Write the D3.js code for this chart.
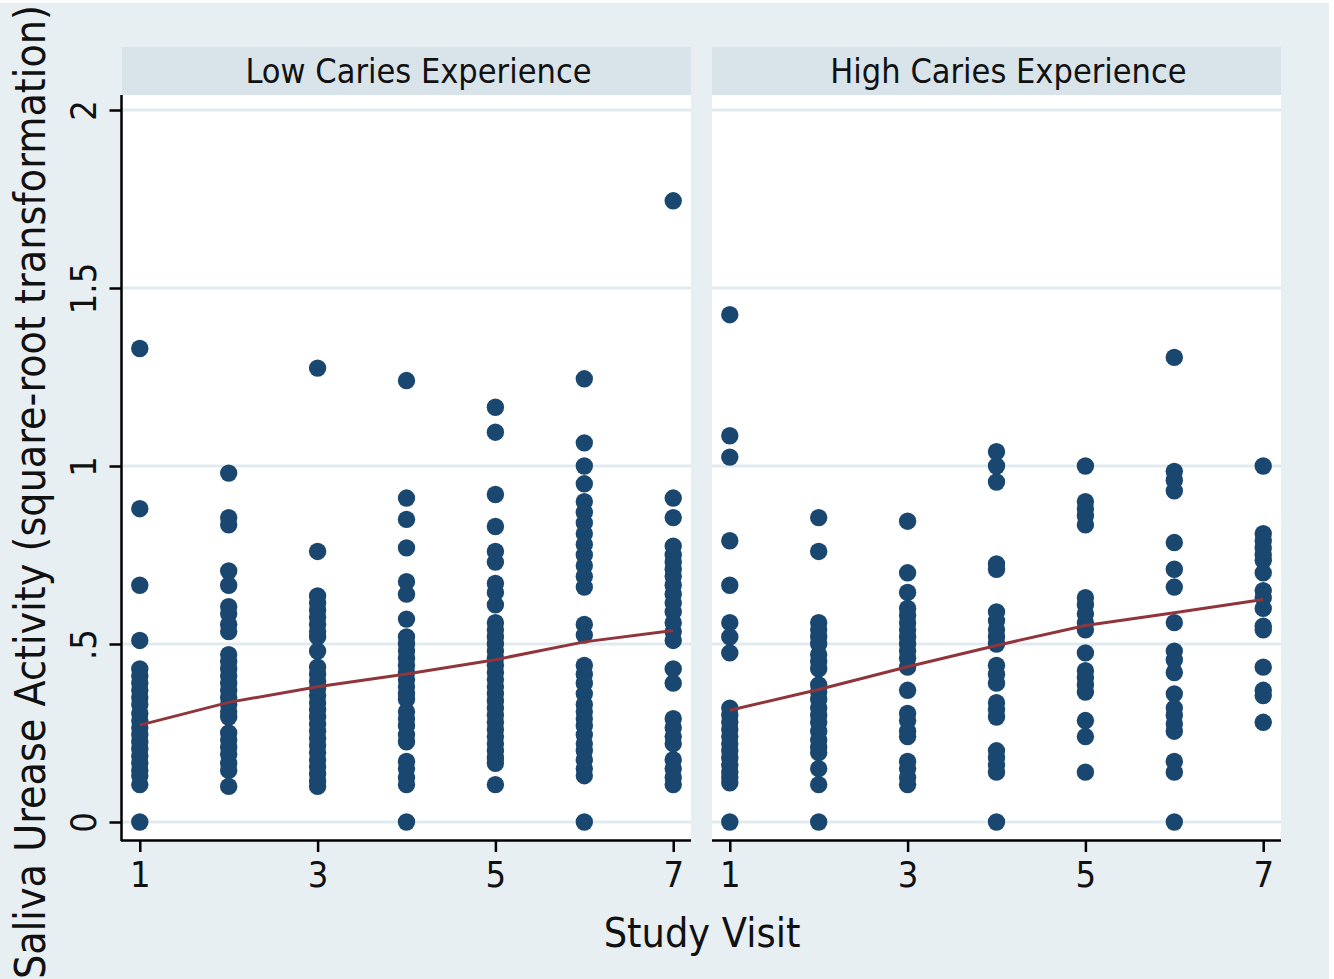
<!DOCTYPE html>
<html>
<head>
<meta charset="utf-8">
<script src="https://cdn.jsdelivr.net/npm/d3@7"></script>
<style>
  html, body { margin: 0; padding: 0; background: #ffffff; }
  svg { display: block; }
  text { font-family: "Liberation Sans Narrow", "DejaVu Sans Condensed", "Arial Narrow", sans-serif; fill: #111; }
</style>
</head>
<body>
<svg id="chart" width="1334" height="979"></svg>
<script>
// Panels (caries-experience groups) and study visits
const panels = ["Low Caries Experience", "High Caries Experience"];
const visits = [1, 2, 3, 4, 5, 6, 7];
const xTicks = [1, 3, 5, 7];
const yTicks = [0, 0.5, 1, 1.5, 2];
const yTickLabels = ["0", ".5", "1", "1.5", "2"];

// Saliva urease activity (square-root scale), one list per visit
const lowV1 = [1.33, 0.88, 0.665, 0.51, 0.43, 0.41, 0.39, 0.37, 0.35, 0.33, 0.305, 0.285, 0.265, 0.245, 0.225, 0.205, 0.185, 0.165, 0.145, 0.13, 0.105, 0];
const lowV2 = [0.98, 0.855, 0.835, 0.705, 0.665, 0.605, 0.585, 0.555, 0.535, 0.47, 0.45, 0.43, 0.41, 0.39, 0.37, 0.35, 0.33, 0.31, 0.295, 0.25, 0.23, 0.21, 0.19, 0.165, 0.145, 0.10];
const lowV3 = [1.275, 0.76, 0.635, 0.615, 0.595, 0.575, 0.555, 0.535, 0.52, 0.48, 0.435, 0.415, 0.395, 0.375, 0.355, 0.335, 0.315, 0.295, 0.275, 0.255, 0.235, 0.215, 0.195, 0.175, 0.155, 0.135, 0.115, 0.10];
const lowV4 = [1.24, 0.91, 0.85, 0.77, 0.675, 0.64, 0.57, 0.52, 0.50, 0.48, 0.46, 0.44, 0.42, 0.40, 0.38, 0.36, 0.345, 0.31, 0.29, 0.27, 0.245, 0.225, 0.17, 0.15, 0.125, 0.105, 0];
const lowV5 = [1.165, 1.095, 0.92, 0.83, 0.76, 0.73, 0.67, 0.645, 0.61, 0.56, 0.54, 0.52, 0.50, 0.48, 0.46, 0.44, 0.42, 0.40, 0.38, 0.36, 0.34, 0.32, 0.30, 0.28, 0.26, 0.24, 0.22, 0.20, 0.18, 0.165, 0.105];
const lowV6 = [1.245, 1.065, 1.0, 0.95, 0.90, 0.87, 0.84, 0.81, 0.78, 0.75, 0.72, 0.69, 0.66, 0.555, 0.525, 0.44, 0.415, 0.39, 0.36, 0.33, 0.31, 0.29, 0.27, 0.245, 0.22, 0.20, 0.175, 0.15, 0.13, 0];
const lowV7 = [1.745, 0.91, 0.855, 0.775, 0.75, 0.73, 0.71, 0.69, 0.665, 0.64, 0.615, 0.59, 0.56, 0.535, 0.51, 0.43, 0.39, 0.29, 0.265, 0.24, 0.22, 0.175, 0.15, 0.125, 0.105];

const highV1 = [1.425, 1.085, 1.025, 0.79, 0.665, 0.56, 0.52, 0.475, 0.32, 0.30, 0.28, 0.26, 0.24, 0.22, 0.20, 0.18, 0.16, 0.14, 0.125, 0.11, 0];
const highV2 = [0.855, 0.76, 0.56, 0.54, 0.52, 0.50, 0.47, 0.45, 0.43, 0.385, 0.365, 0.345, 0.32, 0.30, 0.28, 0.255, 0.23, 0.21, 0.195, 0.15, 0.105, 0];
const highV3 = [0.845, 0.70, 0.645, 0.60, 0.58, 0.56, 0.54, 0.52, 0.50, 0.48, 0.46, 0.435, 0.37, 0.305, 0.285, 0.255, 0.24, 0.17, 0.15, 0.125, 0.105];
const highV4 = [1.04, 1.0, 0.955, 0.725, 0.71, 0.59, 0.565, 0.54, 0.52, 0.50, 0.44, 0.415, 0.39, 0.335, 0.315, 0.295, 0.20, 0.18, 0.16, 0.14, 0];
const highV5 = [1.0, 0.90, 0.88, 0.86, 0.835, 0.63, 0.61, 0.585, 0.56, 0.54, 0.475, 0.425, 0.405, 0.385, 0.365, 0.285, 0.24, 0.14];
const highV6 = [1.305, 0.985, 0.96, 0.93, 0.785, 0.71, 0.66, 0.56, 0.48, 0.455, 0.42, 0.36, 0.32, 0.30, 0.275, 0.255, 0.17, 0.14, 0];
const highV7 = [1.0, 0.81, 0.79, 0.77, 0.75, 0.735, 0.70, 0.65, 0.63, 0.60, 0.55, 0.54, 0.435, 0.37, 0.355, 0.28];

// Fitted means by visit (line)
const lowMeans = [0.272, 0.336, 0.38, 0.416, 0.456, 0.506, 0.538];
const highMeans = [0.314, 0.372, 0.436, 0.496, 0.552, 0.588, 0.625];

const panelData = [
  { title: panels[0], values: [lowV1, lowV2, lowV3, lowV4, lowV5, lowV6, lowV7], means: lowMeans },
  { title: panels[1], values: [highV1, highV2, highV3, highV4, highV5, highV6, highV7], means: highMeans }
];

// Layout
const W = 1334, H = 979;
const bg = "#e8eff2", stripFill = "#d8e4ea", gridColor = "#e1ebef";
const dotColor = "#1a476f", lineColor = "#90353b";
const panelX = [[122, 691], [712, 1281]];
const stripTop = 47, plotTop = 95, plotBottom = 840;
const fontStack = "'Liberation Sans Narrow', 'DejaVu Sans Condensed', sans-serif";

const svg = d3.select("#chart");

svg.append("rect").attr("x", 0).attr("y", 3).attr("width", 1329).attr("height", H - 3).attr("fill", bg);

const y = d3.scaleLinear().domain([0, 2]).range([822, 110]);

panelData.forEach((p, i) => {
  const [x0, x1] = panelX[i];
  const x = d3.scaleLinear().domain([0.8, 7.2]).range([x0, x1]);
  const g = svg.append("g");

  // header strip
  g.append("rect").attr("x", x0).attr("y", stripTop).attr("width", x1 - x0).attr("height", plotTop - stripTop).attr("fill", stripFill);
  g.append("text").attr("x", (x0 + x1) / 2 + 12).attr("y", 83)
    .attr("text-anchor", "middle").attr("font-size", 34).text(p.title);

  // plot region
  g.append("rect").attr("x", x0).attr("y", plotTop).attr("width", x1 - x0).attr("height", plotBottom - plotTop).attr("fill", "#ffffff");

  // horizontal gridlines
  g.selectAll("line.grid").data(yTicks).join("line").attr("class", "grid")
    .attr("x1", x0).attr("x2", x1).attr("y1", d => y(d)).attr("y2", d => y(d))
    .attr("stroke", gridColor).attr("stroke-width", 3);

  // points
  const pts = [];
  p.values.forEach((vals, vi) => vals.forEach(v => pts.push({ visit: visits[vi], v })));
  g.selectAll("circle").data(pts).join("circle")
    .attr("cx", d => x(d.visit)).attr("cy", d => y(d.v)).attr("r", 8.7).attr("fill", dotColor);

  // mean line
  const line = d3.line().x((d, k) => x(visits[k])).y(d => y(d));
  g.append("path").datum(p.means).attr("d", line).attr("fill", "none")
    .attr("stroke", lineColor).attr("stroke-width", 3);

  // x axis
  const xAxis = d3.axisBottom(x).tickValues(xTicks).tickSize(12).tickPadding(9).tickFormat(d3.format("d"));
  const ax = g.append("g").attr("transform", `translate(0,${plotBottom})`).call(xAxis);
  ax.select(".domain").attr("d", `M${x0 - (i === 0 ? 1 : 0)},0.5H${x1}`).attr("stroke", "#000").attr("stroke-width", 2.5);
  ax.selectAll(".tick line").attr("stroke", "#000").attr("stroke-width", 2.5);
  ax.selectAll(".tick text").attr("font-size", 36).attr("fill", "#111").style("font-family", fontStack);

  // y axis on the first panel only
  if (i === 0) {
    const yAxis = d3.axisLeft(y).tickValues(yTicks).tickSize(12).tickFormat((d, k) => yTickLabels[k]);
    const ay = g.append("g").attr("transform", `translate(${x0 - 0.5},0)`).call(yAxis);
    ay.select(".domain").attr("d", `M0,${plotTop}V${plotBottom + 1}`).attr("stroke", "#000").attr("stroke-width", 2.5);
    ay.selectAll(".tick line").attr("stroke", "#000").attr("stroke-width", 2.5);
    ay.selectAll(".tick text")
      .attr("x", null).attr("dy", null)
      .attr("text-anchor", "middle")
      .attr("transform", "translate(-26,0) rotate(-90)")
      .attr("font-size", 36).attr("fill", "#111").style("font-family", fontStack);
  }
});

// axis titles
svg.append("text").attr("x", 702).attr("y", 947).attr("text-anchor", "middle")
  .attr("font-size", 41).text("Study Visit");
svg.append("text").attr("transform", "translate(45,492) rotate(-90)").attr("text-anchor", "middle")
  .attr("font-size", 42.5).text("Saliva Urease Activity (square-root transformation)");
</script>
</body>
</html>
